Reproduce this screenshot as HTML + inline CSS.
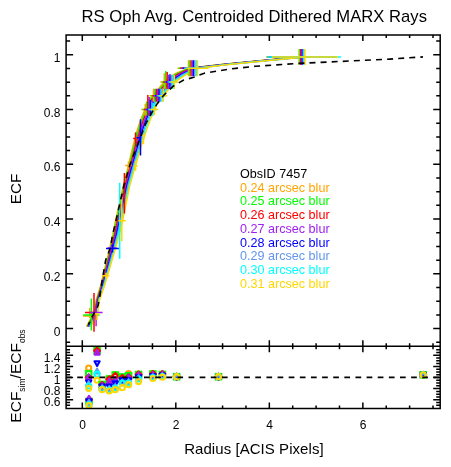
<!DOCTYPE html><html><head><meta charset="utf-8"><style>html,body{margin:0;padding:0;background:#fff;}svg{display:block;will-change:transform;}text{font-family:"Liberation Sans",sans-serif;}</style></head><body>
<svg width="451" height="467" viewBox="0 0 451 467">
<rect width="451" height="467" fill="#fff"/>
<polyline points="86.50,326.50 93.88,313.00 96.33,300.00 100.88,285.00 106.98,260.00 112.85,235.00 115.30,222.00 123.55,185.00 128.60,165.00 133.30,145.00 137.35,130.00 140.64,120.00 144.70,110.00 148.23,100.00 153.12,95.70 164.30,81.65 175.28,73.62 188.49,68.30 221.15,64.50 251.50,61.60 299.10,57.00" fill="none" stroke="#ffa500" stroke-width="1.5" stroke-linejoin="round"/>
<polyline points="87.10,326.50 94.42,313.00 96.78,300.00 101.42,285.00 107.70,260.00 113.75,235.00 116.30,222.00 124.45,185.00 129.60,165.00 134.50,145.00 138.65,130.00 142.00,120.00 146.10,110.00 149.68,100.00 154.57,95.70 165.73,81.75 176.62,73.88 189.78,68.30 222.25,64.50 252.50,61.60 299.93,57.00" fill="none" stroke="#00ff00" stroke-width="1.5" stroke-linejoin="round"/>
<polyline points="87.70,326.50 94.97,313.00 97.23,300.00 101.97,285.00 108.42,260.00 114.65,235.00 117.30,222.00 125.35,185.00 130.60,165.00 135.70,145.00 139.95,130.00 143.36,120.00 147.50,110.00 151.12,100.00 156.02,95.70 167.16,81.85 177.97,74.12 191.06,68.30 223.35,64.50 253.50,61.60 300.75,57.00" fill="none" stroke="#ff0000" stroke-width="1.5" stroke-linejoin="round"/>
<polyline points="88.30,326.50 95.52,313.00 97.68,300.00 102.52,285.00 109.14,260.00 115.55,235.00 118.30,222.00 126.25,185.00 131.60,165.00 136.90,145.00 141.25,130.00 144.72,120.00 148.90,110.00 152.58,100.00 157.47,95.70 168.59,81.95 179.32,74.38 192.35,68.30 224.45,64.50 254.50,61.60 301.58,57.00" fill="none" stroke="#a020f0" stroke-width="1.5" stroke-linejoin="round"/>
<polyline points="88.90,326.50 96.08,313.00 98.12,300.00 103.08,285.00 109.86,260.00 116.45,235.00 119.30,222.00 127.15,185.00 132.60,165.00 138.10,145.00 142.55,130.00 146.08,120.00 150.30,110.00 154.03,100.00 158.92,95.70 170.02,82.05 180.68,74.62 193.65,68.30 225.55,64.50 255.50,61.60 302.42,57.00" fill="none" stroke="#0000ff" stroke-width="1.5" stroke-linejoin="round"/>
<polyline points="89.50,326.50 96.62,313.00 98.58,300.00 103.62,285.00 110.58,260.00 117.35,235.00 120.30,222.00 128.05,185.00 133.60,165.00 139.30,145.00 143.85,130.00 147.44,120.00 151.70,110.00 155.48,100.00 160.38,95.70 171.45,82.15 182.03,74.88 194.94,68.30 226.65,64.50 256.50,61.60 303.25,57.00" fill="none" stroke="#6495ed" stroke-width="1.5" stroke-linejoin="round"/>
<polyline points="90.10,326.50 97.17,313.00 99.03,300.00 104.17,285.00 111.30,260.00 118.25,235.00 121.30,222.00 128.95,185.00 134.60,165.00 140.50,145.00 145.15,130.00 148.80,120.00 153.10,110.00 156.93,100.00 161.82,95.70 172.88,82.25 183.38,75.12 196.22,68.30 227.75,64.50 257.50,61.60 304.07,57.00" fill="none" stroke="#00ffff" stroke-width="1.5" stroke-linejoin="round"/>
<polyline points="90.70,326.50 97.72,313.00 99.48,300.00 104.72,285.00 112.02,260.00 119.15,235.00 122.30,222.00 129.85,185.00 135.60,165.00 141.70,145.00 146.45,130.00 150.16,120.00 154.50,110.00 158.38,100.00 163.27,95.70 174.31,82.35 184.72,75.38 197.51,68.30 228.85,64.50 258.50,61.60 304.90,57.00" fill="none" stroke="#ffd700" stroke-width="1.5" stroke-linejoin="round"/>
<path d="M89.70,308.00V318.00M83.00,316.00H94.70M128.50,161.60V169.60M125.30,165.60H131.50M145.25,103.70V115.50M141.25,109.50H149.25M153.50,88.70V101.70M149.50,95.70H157.50M164.30,73.30V89.00M160.30,82.00H168.30M188.49,60.30V76.30M177.49,68.30H199.49M299.10,49.00V65.00M266.10,57.00H332.10" stroke="#ffa500" stroke-width="1.5" fill="none"/>
<path d="M91.40,298.40V330.60M83.30,315.10H99.60M135.60,132.40V141.60M134.60,138.60H136.60M146.55,101.50V115.50M142.55,109.50H150.55M154.90,88.70V101.70M150.90,95.70H158.90M165.73,71.00V89.00M161.73,82.00H169.73M189.78,60.30V76.30M178.78,68.30H200.78M299.93,49.00V65.00M266.93,57.00H332.93" stroke="#00ff00" stroke-width="1.5" fill="none"/>
<path d="M94.00,292.90V331.80M85.00,312.60H96.40M124.40,173.00V213.50M123.40,193.00H125.40M135.60,132.40V145.30M133.20,138.60H136.60M147.85,94.90V115.50M143.85,109.50H151.85M156.30,88.70V101.70M152.30,95.70H160.30M167.16,72.00V89.00M163.16,82.00H171.16M191.06,60.30V76.30M180.06,68.30H202.06M300.75,49.00V65.00M267.75,57.00H333.75" stroke="#ff0000" stroke-width="1.5" fill="none"/>
<path d="M96.10,305.60V326.30M89.70,312.60H102.60M111.50,245.00V251.00M107.50,248.00H116.50M149.15,97.00V115.50M145.15,109.50H153.15M157.70,88.70V101.70M153.70,95.70H161.70M168.59,74.70V89.00M164.59,82.00H172.59M192.35,60.30V76.30M181.35,68.30H203.35M301.58,49.00V65.00M268.58,57.00H334.58" stroke="#a020f0" stroke-width="1.5" fill="none"/>
<path d="M112.50,244.40V252.40M106.00,248.40H118.90M140.50,119.30V155.50M136.60,137.70H141.40M150.45,100.00V115.50M146.45,109.50H154.45M159.10,88.70V101.70M155.10,95.70H163.10M170.02,74.30V89.00M166.02,82.00H174.02M193.65,60.30V76.30M182.65,68.30H204.65M302.42,49.00V65.00M269.42,57.00H335.42" stroke="#0000ff" stroke-width="1.5" fill="none"/>
<path d="M151.75,102.00V115.50M147.75,109.50H155.75M160.50,88.70V101.70M156.50,95.70H164.50M171.45,74.70V89.00M167.45,82.00H175.45M194.94,60.30V76.30M183.94,68.30H205.94M303.25,49.00V65.00M270.25,57.00H336.25" stroke="#6495ed" stroke-width="1.5" fill="none"/>
<path d="M119.70,182.70V258.70M118.70,220.70H120.70M153.05,103.00V115.50M149.05,109.50H157.05M161.90,88.70V101.70M157.90,95.70H165.90M172.88,74.70V89.00M168.88,82.00H176.88M196.22,60.30V76.30M185.22,68.30H207.22M304.07,49.00V65.00M267.07,57.00H341.07" stroke="#00ffff" stroke-width="1.5" fill="none"/>
<path d="M97.00,313.00V320.00M95.00,314.00H99.00M106.00,272.70V278.70M102.80,275.70H109.30M121.80,196.70V241.30M118.40,220.70H125.70M135.60,161.00V170.70M133.60,166.00H137.60M143.40,134.30V144.00M142.40,139.00H144.40M154.35,106.40V115.20M150.35,109.50H158.35M163.30,88.70V101.70M159.30,95.70H167.30M174.31,75.30V89.00M170.31,82.00H178.31M197.51,60.30V76.30M186.51,68.30H208.51M304.90,49.00V65.00M271.90,57.00H337.90" stroke="#ffd700" stroke-width="1.5" fill="none"/>
<polyline points="88.4,324.6 93,315 98,305.7 100,295.5 101.7,283 105.7,260 110.3,248 112.5,235 115,225 124,185 129.9,165 137.5,145 145.5,124 151.3,113.5 156.6,104.6 163.7,95.3 173.5,86 183.2,80.3 193.8,77.2 205,73 230,69 255,66.3 300,63.3 350,61 390,59.1 423,56.9" fill="none" stroke="#000" stroke-width="1.6" stroke-dasharray="6 5.1" stroke-dashoffset="3.1"/>
<svg x="0" y="0" width="451" height="467"><clipPath id="cb"><rect x="66" y="346.2" width="374.2" height="62.1"/></clipPath><g clip-path="url(#cb)"><circle cx="88.70" cy="368.10" r="2.55" fill="none" stroke="#ffa500" stroke-width="2.1"/>
<rect x="85.95" y="371.15" width="5.5" height="5.5" fill="none" stroke="#00ff00" stroke-width="2.1"/>
<path d="M88.70,374.40L91.70,377.40L88.70,380.40L85.70,377.40Z" fill="none" stroke="#ff0000" stroke-width="2.1" stroke-linejoin="round"/>
<path d="M88.70,374.60L91.30,379.30H86.10Z" fill="none" stroke="#a020f0" stroke-width="2.1" stroke-linejoin="round"/>
<path d="M88.70,385.30L91.30,380.60H86.10Z" fill="none" stroke="#0000ff" stroke-width="2.1" stroke-linejoin="round"/>
<path d="M88.70,381.20L91.30,385.90H86.10Z" fill="none" stroke="#6495ed" stroke-width="2.1" stroke-linejoin="round"/>
<circle cx="88.70" cy="386.00" r="2.55" fill="none" stroke="#00ffff" stroke-width="2.1"/>
<circle cx="88.70" cy="388.30" r="2.55" fill="none" stroke="#ffd700" stroke-width="2.1"/>
<circle cx="89.00" cy="402.00" r="2.55" fill="none" stroke="#ffa500" stroke-width="2.1"/>
<rect x="86.25" y="398.75" width="5.5" height="5.5" fill="none" stroke="#00ff00" stroke-width="2.1"/>
<path d="M89.00,396.70L92.00,399.70L89.00,402.70L86.00,399.70Z" fill="none" stroke="#ff0000" stroke-width="2.1" stroke-linejoin="round"/>
<path d="M89.00,395.80L91.60,400.50H86.40Z" fill="none" stroke="#a020f0" stroke-width="2.1" stroke-linejoin="round"/>
<path d="M89.00,404.10L91.60,399.40H86.40Z" fill="none" stroke="#0000ff" stroke-width="2.1" stroke-linejoin="round"/>
<path d="M89.00,399.70L91.60,404.40H86.40Z" fill="none" stroke="#6495ed" stroke-width="2.1" stroke-linejoin="round"/>
<circle cx="89.00" cy="404.50" r="2.55" fill="none" stroke="#00ffff" stroke-width="2.1"/>
<circle cx="89.00" cy="405.60" r="2.55" fill="none" stroke="#ffd700" stroke-width="2.1"/>
<circle cx="97.10" cy="347.00" r="2.55" fill="none" stroke="#ffa500" stroke-width="2.1"/>
<rect x="94.35" y="347.65" width="5.5" height="5.5" fill="none" stroke="#00ff00" stroke-width="2.1"/>
<path d="M97.10,347.80L100.10,350.80L97.10,353.80L94.10,350.80Z" fill="none" stroke="#ff0000" stroke-width="2.1" stroke-linejoin="round"/>
<path d="M97.10,349.90L99.70,354.60H94.50Z" fill="none" stroke="#a020f0" stroke-width="2.1" stroke-linejoin="round"/>
<path d="M97.10,366.00L99.70,361.30H94.50Z" fill="none" stroke="#0000ff" stroke-width="2.1" stroke-linejoin="round"/>
<path d="M97.10,368.70L99.70,373.40H94.50Z" fill="none" stroke="#6495ed" stroke-width="2.1" stroke-linejoin="round"/>
<circle cx="97.10" cy="374.20" r="2.55" fill="none" stroke="#00ffff" stroke-width="2.1"/>
<circle cx="97.10" cy="380.20" r="2.55" fill="none" stroke="#ffd700" stroke-width="2.1"/>
<circle cx="102.20" cy="384.50" r="2.55" fill="none" stroke="#ffa500" stroke-width="2.1"/>
<rect x="99.45" y="381.75" width="5.5" height="5.5" fill="none" stroke="#00ff00" stroke-width="2.1"/>
<path d="M102.20,382.00L105.20,385.00L102.20,388.00L99.20,385.00Z" fill="none" stroke="#ff0000" stroke-width="2.1" stroke-linejoin="round"/>
<path d="M102.20,382.70L104.80,387.40H99.60Z" fill="none" stroke="#a020f0" stroke-width="2.1" stroke-linejoin="round"/>
<path d="M102.20,389.30L104.80,384.60H99.60Z" fill="none" stroke="#0000ff" stroke-width="2.1" stroke-linejoin="round"/>
<path d="M102.20,385.20L104.80,389.90H99.60Z" fill="none" stroke="#6495ed" stroke-width="2.1" stroke-linejoin="round"/>
<circle cx="102.20" cy="389.00" r="2.55" fill="none" stroke="#00ffff" stroke-width="2.1"/>
<circle cx="102.20" cy="389.70" r="2.55" fill="none" stroke="#ffd700" stroke-width="2.1"/>
<circle cx="109.30" cy="380.50" r="2.55" fill="none" stroke="#ffa500" stroke-width="2.1"/>
<rect x="106.55" y="376.25" width="5.5" height="5.5" fill="none" stroke="#00ff00" stroke-width="2.1"/>
<path d="M109.30,376.30L112.30,379.30L109.30,382.30L106.30,379.30Z" fill="none" stroke="#ff0000" stroke-width="2.1" stroke-linejoin="round"/>
<path d="M109.30,378.50L111.90,383.20H106.70Z" fill="none" stroke="#a020f0" stroke-width="2.1" stroke-linejoin="round"/>
<path d="M109.30,389.30L111.90,384.60H106.70Z" fill="none" stroke="#0000ff" stroke-width="2.1" stroke-linejoin="round"/>
<path d="M109.30,386.20L111.90,390.90H106.70Z" fill="none" stroke="#6495ed" stroke-width="2.1" stroke-linejoin="round"/>
<circle cx="109.30" cy="390.00" r="2.55" fill="none" stroke="#00ffff" stroke-width="2.1"/>
<circle cx="109.30" cy="391.00" r="2.55" fill="none" stroke="#ffd700" stroke-width="2.1"/>
<circle cx="115.30" cy="374.50" r="2.55" fill="none" stroke="#ffa500" stroke-width="2.1"/>
<rect x="112.55" y="372.25" width="5.5" height="5.5" fill="none" stroke="#00ff00" stroke-width="2.1"/>
<path d="M115.30,373.00L118.30,376.00L115.30,379.00L112.30,376.00Z" fill="none" stroke="#ff0000" stroke-width="2.1" stroke-linejoin="round"/>
<path d="M115.30,376.90L117.90,381.60H112.70Z" fill="none" stroke="#a020f0" stroke-width="2.1" stroke-linejoin="round"/>
<path d="M115.30,386.10L117.90,381.40H112.70Z" fill="none" stroke="#0000ff" stroke-width="2.1" stroke-linejoin="round"/>
<path d="M115.30,384.20L117.90,388.90H112.70Z" fill="none" stroke="#6495ed" stroke-width="2.1" stroke-linejoin="round"/>
<circle cx="115.30" cy="388.00" r="2.55" fill="none" stroke="#00ffff" stroke-width="2.1"/>
<circle cx="115.30" cy="389.70" r="2.55" fill="none" stroke="#ffd700" stroke-width="2.1"/>
<circle cx="122.30" cy="377.00" r="2.55" fill="none" stroke="#ffa500" stroke-width="2.1"/>
<rect x="119.55" y="374.25" width="5.5" height="5.5" fill="none" stroke="#00ff00" stroke-width="2.1"/>
<path d="M122.30,375.00L125.30,378.00L122.30,381.00L119.30,378.00Z" fill="none" stroke="#ff0000" stroke-width="2.1" stroke-linejoin="round"/>
<path d="M122.30,377.20L124.90,381.90H119.70Z" fill="none" stroke="#a020f0" stroke-width="2.1" stroke-linejoin="round"/>
<path d="M122.30,382.80L124.90,378.10H119.70Z" fill="none" stroke="#0000ff" stroke-width="2.1" stroke-linejoin="round"/>
<path d="M122.30,379.50L124.90,384.20H119.70Z" fill="none" stroke="#6495ed" stroke-width="2.1" stroke-linejoin="round"/>
<circle cx="122.30" cy="383.00" r="2.55" fill="none" stroke="#00ffff" stroke-width="2.1"/>
<circle cx="122.30" cy="387.70" r="2.55" fill="none" stroke="#ffd700" stroke-width="2.1"/>
<circle cx="128.60" cy="373.50" r="2.55" fill="none" stroke="#ffa500" stroke-width="2.1"/>
<rect x="125.85" y="373.05" width="5.5" height="5.5" fill="none" stroke="#00ff00" stroke-width="2.1"/>
<path d="M128.60,374.30L131.60,377.30L128.60,380.30L125.60,377.30Z" fill="none" stroke="#ff0000" stroke-width="2.1" stroke-linejoin="round"/>
<path d="M128.60,374.70L131.20,379.40H126.00Z" fill="none" stroke="#a020f0" stroke-width="2.1" stroke-linejoin="round"/>
<path d="M128.60,383.10L131.20,378.40H126.00Z" fill="none" stroke="#0000ff" stroke-width="2.1" stroke-linejoin="round"/>
<path d="M128.60,379.20L131.20,383.90H126.00Z" fill="none" stroke="#6495ed" stroke-width="2.1" stroke-linejoin="round"/>
<circle cx="128.60" cy="383.00" r="2.55" fill="none" stroke="#00ffff" stroke-width="2.1"/>
<circle cx="128.60" cy="384.70" r="2.55" fill="none" stroke="#ffd700" stroke-width="2.1"/>
<circle cx="138.60" cy="374.00" r="2.55" fill="none" stroke="#ffa500" stroke-width="2.1"/>
<rect x="135.85" y="371.75" width="5.5" height="5.5" fill="none" stroke="#00ff00" stroke-width="2.1"/>
<path d="M138.60,371.50L141.60,374.50L138.60,377.50L135.60,374.50Z" fill="none" stroke="#ff0000" stroke-width="2.1" stroke-linejoin="round"/>
<path d="M138.60,372.20L141.20,376.90H136.00Z" fill="none" stroke="#a020f0" stroke-width="2.1" stroke-linejoin="round"/>
<path d="M138.60,380.00L141.20,375.30H136.00Z" fill="none" stroke="#0000ff" stroke-width="2.1" stroke-linejoin="round"/>
<path d="M138.60,375.20L141.20,379.90H136.00Z" fill="none" stroke="#6495ed" stroke-width="2.1" stroke-linejoin="round"/>
<circle cx="138.60" cy="379.00" r="2.55" fill="none" stroke="#00ffff" stroke-width="2.1"/>
<circle cx="138.60" cy="381.60" r="2.55" fill="none" stroke="#ffd700" stroke-width="2.1"/>
<circle cx="152.90" cy="373.50" r="2.55" fill="none" stroke="#ffa500" stroke-width="2.1"/>
<rect x="150.15" y="371.25" width="5.5" height="5.5" fill="none" stroke="#00ff00" stroke-width="2.1"/>
<path d="M152.90,371.00L155.90,374.00L152.90,377.00L149.90,374.00Z" fill="none" stroke="#ff0000" stroke-width="2.1" stroke-linejoin="round"/>
<path d="M152.90,372.20L155.50,376.90H150.30Z" fill="none" stroke="#a020f0" stroke-width="2.1" stroke-linejoin="round"/>
<path d="M152.90,378.80L155.50,374.10H150.30Z" fill="none" stroke="#0000ff" stroke-width="2.1" stroke-linejoin="round"/>
<path d="M152.90,374.20L155.50,378.90H150.30Z" fill="none" stroke="#6495ed" stroke-width="2.1" stroke-linejoin="round"/>
<circle cx="152.90" cy="377.50" r="2.55" fill="none" stroke="#00ffff" stroke-width="2.1"/>
<circle cx="152.90" cy="378.50" r="2.55" fill="none" stroke="#ffd700" stroke-width="2.1"/>
<circle cx="162.40" cy="374.00" r="2.55" fill="none" stroke="#ffa500" stroke-width="2.1"/>
<rect x="159.65" y="371.75" width="5.5" height="5.5" fill="none" stroke="#00ff00" stroke-width="2.1"/>
<path d="M162.40,371.00L165.40,374.00L162.40,377.00L159.40,374.00Z" fill="none" stroke="#ff0000" stroke-width="2.1" stroke-linejoin="round"/>
<path d="M162.40,371.70L165.00,376.40H159.80Z" fill="none" stroke="#a020f0" stroke-width="2.1" stroke-linejoin="round"/>
<path d="M162.40,378.30L165.00,373.60H159.80Z" fill="none" stroke="#0000ff" stroke-width="2.1" stroke-linejoin="round"/>
<path d="M162.40,373.20L165.00,377.90H159.80Z" fill="none" stroke="#6495ed" stroke-width="2.1" stroke-linejoin="round"/>
<circle cx="162.40" cy="376.50" r="2.55" fill="none" stroke="#00ffff" stroke-width="2.1"/>
<circle cx="162.40" cy="377.20" r="2.55" fill="none" stroke="#ffd700" stroke-width="2.1"/>
<circle cx="176.60" cy="376.70" r="2.55" fill="none" stroke="#ffa500" stroke-width="2.1"/>
<rect x="173.85" y="373.95" width="5.5" height="5.5" fill="none" stroke="#00ff00" stroke-width="2.1"/>
<path d="M176.60,373.70L179.60,376.70L176.60,379.70L173.60,376.70Z" fill="none" stroke="#ff0000" stroke-width="2.1" stroke-linejoin="round"/>
<path d="M176.60,373.90L179.20,378.60H174.00Z" fill="none" stroke="#a020f0" stroke-width="2.1" stroke-linejoin="round"/>
<path d="M176.60,379.50L179.20,374.80H174.00Z" fill="none" stroke="#0000ff" stroke-width="2.1" stroke-linejoin="round"/>
<path d="M176.60,373.90L179.20,378.60H174.00Z" fill="none" stroke="#6495ed" stroke-width="2.1" stroke-linejoin="round"/>
<circle cx="176.60" cy="376.70" r="2.55" fill="none" stroke="#00ffff" stroke-width="2.1"/>
<circle cx="176.60" cy="376.70" r="2.55" fill="none" stroke="#ffd700" stroke-width="2.1"/>
<circle cx="218.50" cy="376.70" r="2.55" fill="none" stroke="#ffa500" stroke-width="2.1"/>
<rect x="215.75" y="373.95" width="5.5" height="5.5" fill="none" stroke="#00ff00" stroke-width="2.1"/>
<path d="M218.50,373.70L221.50,376.70L218.50,379.70L215.50,376.70Z" fill="none" stroke="#ff0000" stroke-width="2.1" stroke-linejoin="round"/>
<path d="M218.50,373.90L221.10,378.60H215.90Z" fill="none" stroke="#a020f0" stroke-width="2.1" stroke-linejoin="round"/>
<path d="M218.50,379.50L221.10,374.80H215.90Z" fill="none" stroke="#0000ff" stroke-width="2.1" stroke-linejoin="round"/>
<path d="M218.50,373.90L221.10,378.60H215.90Z" fill="none" stroke="#6495ed" stroke-width="2.1" stroke-linejoin="round"/>
<circle cx="218.50" cy="376.70" r="2.55" fill="none" stroke="#00ffff" stroke-width="2.1"/>
<circle cx="218.50" cy="376.70" r="2.55" fill="none" stroke="#ffd700" stroke-width="2.1"/>
<circle cx="423.20" cy="374.80" r="2.55" fill="none" stroke="#ffa500" stroke-width="2.1"/>
<rect x="420.45" y="372.05" width="5.5" height="5.5" fill="none" stroke="#00ff00" stroke-width="2.1"/>
<path d="M423.20,371.80L426.20,374.80L423.20,377.80L420.20,374.80Z" fill="none" stroke="#ff0000" stroke-width="2.1" stroke-linejoin="round"/>
<path d="M423.20,372.00L425.80,376.70H420.60Z" fill="none" stroke="#a020f0" stroke-width="2.1" stroke-linejoin="round"/>
<path d="M423.20,377.60L425.80,372.90H420.60Z" fill="none" stroke="#0000ff" stroke-width="2.1" stroke-linejoin="round"/>
<path d="M423.20,372.00L425.80,376.70H420.60Z" fill="none" stroke="#6495ed" stroke-width="2.1" stroke-linejoin="round"/>
<circle cx="423.20" cy="374.80" r="2.55" fill="none" stroke="#00ffff" stroke-width="2.1"/>
<circle cx="423.20" cy="374.80" r="2.55" fill="none" stroke="#ffd700" stroke-width="2.1"/></g></svg>
<path d="M66.1,377.4H440.2" stroke="#000" stroke-width="1.6" stroke-dasharray="5.7 5.43"/>
<path d="M66.1,34.9H440.2V408.5H66.1Z M66.1,346.2H440.2 M82.30,34.9v6M82.30,346.2v-6M82.30,346.2v6M82.30,408.5v-6 M105.68,34.9v3M105.68,346.2v-3M105.68,346.2v3M105.68,408.5v-3 M129.06,34.9v3M129.06,346.2v-3M129.06,346.2v3M129.06,408.5v-3 M152.44,34.9v3M152.44,346.2v-3M152.44,346.2v3M152.44,408.5v-3 M175.82,34.9v6M175.82,346.2v-6M175.82,346.2v6M175.82,408.5v-6 M199.20,34.9v3M199.20,346.2v-3M199.20,346.2v3M199.20,408.5v-3 M222.58,34.9v3M222.58,346.2v-3M222.58,346.2v3M222.58,408.5v-3 M245.96,34.9v3M245.96,346.2v-3M245.96,346.2v3M245.96,408.5v-3 M269.34,34.9v6M269.34,346.2v-6M269.34,346.2v6M269.34,408.5v-6 M292.72,34.9v3M292.72,346.2v-3M292.72,346.2v3M292.72,408.5v-3 M316.10,34.9v3M316.10,346.2v-3M316.10,346.2v3M316.10,408.5v-3 M339.48,34.9v3M339.48,346.2v-3M339.48,346.2v3M339.48,408.5v-3 M362.86,34.9v6M362.86,346.2v-6M362.86,346.2v6M362.86,408.5v-6 M386.24,34.9v3M386.24,346.2v-3M386.24,346.2v3M386.24,408.5v-3 M409.62,34.9v3M409.62,346.2v-3M409.62,346.2v3M409.62,408.5v-3 M433.00,34.9v3M433.00,346.2v-3M433.00,346.2v3M433.00,408.5v-3 M66.1,342.29h4 M440.2,342.29h-4 M66.1,328.60h7 M440.2,328.60h-7 M66.1,314.91h4 M440.2,314.91h-4 M66.1,301.22h4 M440.2,301.22h-4 M66.1,287.52h4 M440.2,287.52h-4 M66.1,273.83h7 M440.2,273.83h-7 M66.1,260.14h4 M440.2,260.14h-4 M66.1,246.44h4 M440.2,246.44h-4 M66.1,232.75h4 M440.2,232.75h-4 M66.1,219.06h7 M440.2,219.06h-7 M66.1,205.37h4 M440.2,205.37h-4 M66.1,191.68h4 M440.2,191.68h-4 M66.1,177.98h4 M440.2,177.98h-4 M66.1,164.29h7 M440.2,164.29h-7 M66.1,150.60h4 M440.2,150.60h-4 M66.1,136.91h4 M440.2,136.91h-4 M66.1,123.21h4 M440.2,123.21h-4 M66.1,109.52h7 M440.2,109.52h-7 M66.1,95.83h4 M440.2,95.83h-4 M66.1,82.13h4 M440.2,82.13h-4 M66.1,68.44h4 M440.2,68.44h-4 M66.1,54.75h7 M440.2,54.75h-7 M66.1,41.06h4 M440.2,41.06h-4 M66.1,405.25h4 M440.2,405.25h-4 M66.1,402.48h4 M440.2,402.48h-4 M66.1,399.70h7 M440.2,399.70h-7 M66.1,396.93h4 M440.2,396.93h-4 M66.1,394.15h4 M440.2,394.15h-4 M66.1,391.38h4 M440.2,391.38h-4 M66.1,388.60h7 M440.2,388.60h-7 M66.1,385.82h4 M440.2,385.82h-4 M66.1,383.05h4 M440.2,383.05h-4 M66.1,380.27h4 M440.2,380.27h-4 M66.1,377.50h7 M440.2,377.50h-7 M66.1,374.73h4 M440.2,374.73h-4 M66.1,371.95h4 M440.2,371.95h-4 M66.1,369.18h4 M440.2,369.18h-4 M66.1,366.40h7 M440.2,366.40h-7 M66.1,363.62h4 M440.2,363.62h-4 M66.1,360.85h4 M440.2,360.85h-4 M66.1,358.07h4 M440.2,358.07h-4 M66.1,355.30h7 M440.2,355.30h-7 M66.1,352.52h4 M440.2,352.52h-4 M66.1,349.75h4 M440.2,349.75h-4" stroke="#000" stroke-width="1.5" fill="none"/>
<text transform="translate(60.5,335.60) scale(0.96,1)" font-size="12.5" text-anchor="end">0</text>
<text transform="translate(60.5,280.83) scale(0.96,1)" font-size="12.5" text-anchor="end">0.2</text>
<text transform="translate(60.5,226.06) scale(0.96,1)" font-size="12.5" text-anchor="end">0.4</text>
<text transform="translate(60.5,171.29) scale(0.96,1)" font-size="12.5" text-anchor="end">0.6</text>
<text transform="translate(60.5,116.52) scale(0.96,1)" font-size="12.5" text-anchor="end">0.8</text>
<text transform="translate(60.5,61.75) scale(0.96,1)" font-size="12.5" text-anchor="end">1</text>
<text transform="translate(60.5,406.20) scale(0.96,1)" font-size="12.5" text-anchor="end">0.6</text>
<text transform="translate(60.5,395.10) scale(0.96,1)" font-size="12.5" text-anchor="end">0.8</text>
<text transform="translate(60.5,384.00) scale(0.96,1)" font-size="12.5" text-anchor="end">1</text>
<text transform="translate(60.5,372.90) scale(0.96,1)" font-size="12.5" text-anchor="end">1.2</text>
<text transform="translate(60.5,361.80) scale(0.96,1)" font-size="12.5" text-anchor="end">1.4</text>
<text transform="translate(82.50,428.8) scale(0.96,1)" font-size="12.5" text-anchor="middle">0</text>
<text transform="translate(176.02,428.8) scale(0.96,1)" font-size="12.5" text-anchor="middle">2</text>
<text transform="translate(269.54,428.8) scale(0.96,1)" font-size="12.5" text-anchor="middle">4</text>
<text transform="translate(363.06,428.8) scale(0.96,1)" font-size="12.5" text-anchor="middle">6</text>
<text x="81.4" y="22" font-size="16.6" textLength="345.6" lengthAdjust="spacing">RS Oph Avg. Centroided Dithered MARX Rays</text>
<text x="184.2" y="453.8" font-size="15" textLength="139.4" lengthAdjust="spacing">Radius [ACIS Pixels]</text>
<text transform="translate(21.1,189) rotate(-90)" font-size="15.3" text-anchor="middle">ECF</text>
<text transform="translate(21,376) rotate(-90)" font-size="15.5" text-anchor="middle">ECF<tspan font-size="8.5" dy="4">sim</tspan><tspan dy="-4">/ECF</tspan><tspan font-size="8.5" dy="4">obs</tspan></text>
<text x="240" y="177.90" font-size="12.6" fill="#000">ObsID 7457</text>
<text x="240" y="191.65" font-size="12.6" fill="#ffa500">0.24 arcsec blur</text>
<text x="240" y="205.40" font-size="12.6" fill="#00ff00">0.25 arcsec blur</text>
<text x="240" y="219.15" font-size="12.6" fill="#ff0000">0.26 arcsec blur</text>
<text x="240" y="232.90" font-size="12.6" fill="#a020f0">0.27 arcsec blur</text>
<text x="240" y="246.65" font-size="12.6" fill="#0000ff">0.28 arcsec blur</text>
<text x="240" y="260.40" font-size="12.6" fill="#6495ed">0.29 arcsec blur</text>
<text x="240" y="274.15" font-size="12.6" fill="#00ffff">0.30 arcsec blur</text>
<text x="240" y="287.90" font-size="12.6" fill="#ffd700">0.31 arcsec blur</text>
</svg></body></html>
